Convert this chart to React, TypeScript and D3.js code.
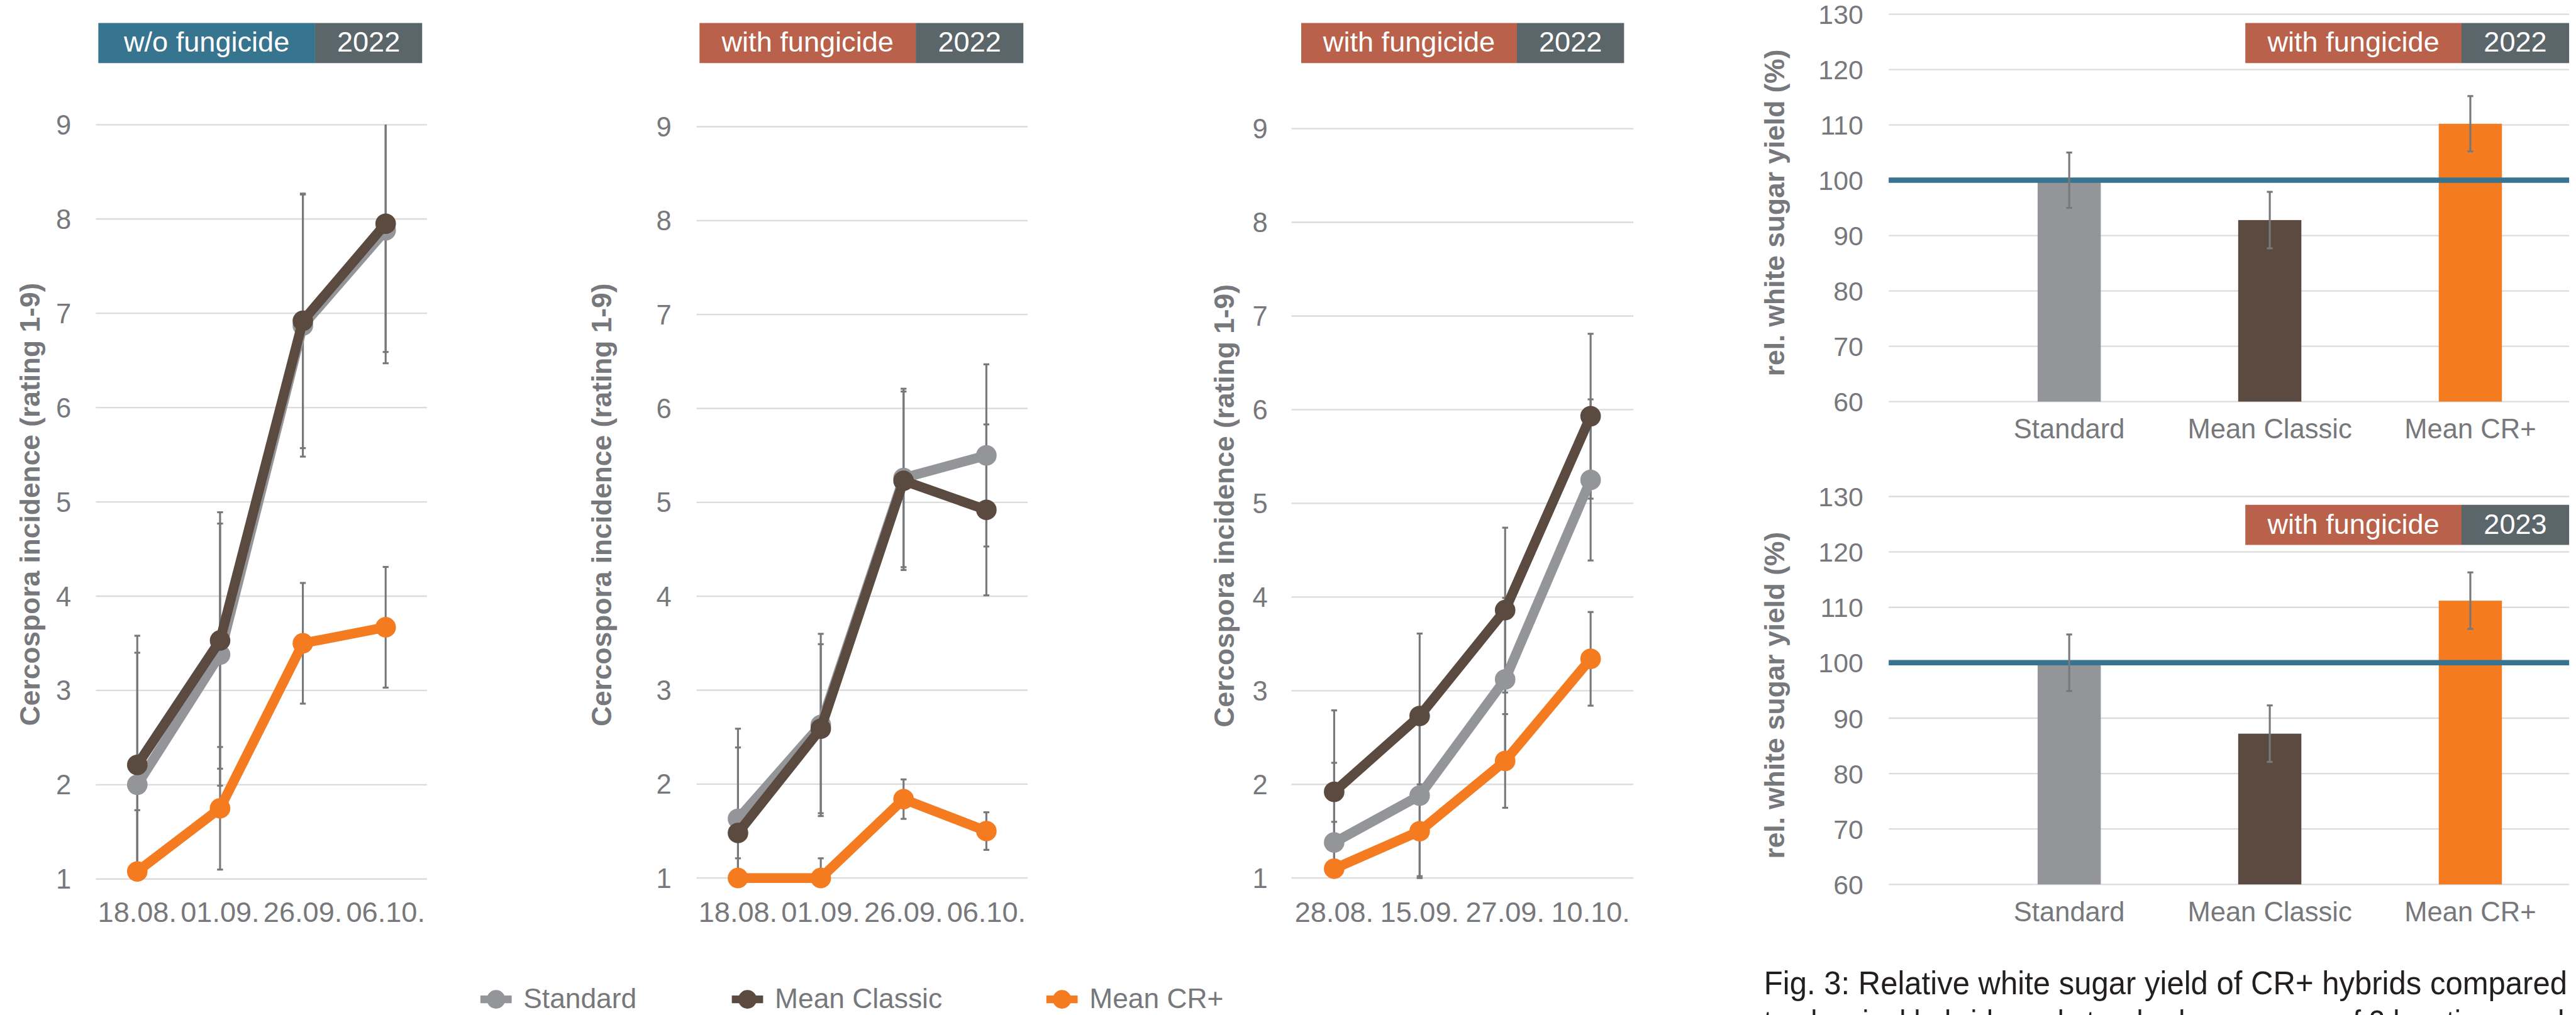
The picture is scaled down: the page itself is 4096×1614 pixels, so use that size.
import React from "react";
import * as d3 from "d3";

const W = 5266;
const H = 2075;

// ---------- data ----------
const seriesNames = ["Standard", "Mean Classic", "Mean CR+"];
const seriesColors = ["#949599", "#5B4A3F", "#F47B20"];

const datesA = ["18.08.", "01.09.", "26.09.", "06.10."];
const datesB = ["28.08.", "15.09.", "27.09.", "10.10."];
const ratingTicks = [1, 2, 3, 4, 5, 6, 7, 8, 9];

// chart 1: w/o fungicide 2022
const c1Standard = [2.0, 3.38, 6.87, 7.88];
const c1Classic = [2.21, 3.53, 6.92, 7.95];
const c1CrPlus = [1.08, 1.75, 3.5, 3.67];
const c1StandardErr = [1.4, 1.39, 1.39, 1.41];
const c1ClassicErr = [1.37, 1.36, 1.35, 1.36];
const c1CrPlusErr = [0.65, 0.65, 0.64, 0.64];

// chart 2: with fungicide 2022
const c2Standard = [1.63, 2.63, 5.26, 5.5];
const c2Classic = [1.48, 2.59, 5.23, 4.92];
const c2CrPlus = [1.0, 1.0, 1.84, 1.5];
const c2StandardErr = [0.96, 0.97, 0.95, 0.97];
const c2ClassicErr = [0.91, 0.9, 0.95, 0.91];
const c2CrPlusErr = [0.21, 0.21, 0.21, 0.2];

// chart 3: with fungicide 2022 (other site)
const c3Standard = [1.38, 1.88, 3.12, 5.25];
const c3Classic = [1.92, 2.73, 3.86, 5.93];
const c3CrPlus = [1.1, 1.5, 2.25, 3.34];
const c3StandardErr = [0.85, 0.86, 0.87, 0.86];
const c3ClassicErr = [0.87, 0.88, 0.88, 0.88];
const c3CrPlusErr = [0.5, 0.5, 0.5, 0.5];

// relative white sugar yield
const barCats = ["Standard", "Mean Classic", "Mean CR+"];
const yieldTicks = [60, 70, 80, 90, 100, 110, 120, 130];
const yield2022 = [100, 92.8, 110.2];
const yield2022Err = [5.0, 5.1, 5.0];
const yield2023 = [100, 87.2, 111.2];
const yield2023Err = [5.1, 5.1, 5.1];

// ---------- style ----------
const FONT = "'Liberation Sans', Arial, Helvetica, sans-serif";
const TXT = "#77787B";
const GRID = "#DCDCDD";
const ERR = "#77787B";
const BLUE = "#37748F";
const RED = "#B9614A";
const DARK = "#5B666B";

function LabelBox({ x0, split, x1, y0, y1, color, label, year }) {
  const base = y0 + 59;
  return (
    <g>
      <rect x={x0} y={y0} width={split - x0} height={y1 - y0} fill={color} />
      <rect x={split} y={y0} width={x1 - split} height={y1 - y0} fill={DARK} />
      <text x={(x0 + split) / 2} y={base} fill="#fff" fontSize={58} textAnchor="middle">{label}</text>
      <text x={(split + x1) / 2} y={base} fill="#fff" fontSize={58} textAnchor="middle">{year}</text>
    </g>
  );
}

function LineChart({ x0, x1, y9, y1, dates, values, errs, tickX, titleX, box }) {
  const y = d3.scaleLinear().domain([1, 9]).range([y1, y9]);
  const x = d3.scalePoint().domain(dates).range([x0, x1]).padding(0.5);
  const line = d3
    .line<number>()
    .x((_, i) => x(dates[i]) as number)
    .y((d) => y(d));
  const titleY = (y(9) + y(1)) / 2 + 5;
  return (
    <g>
      {ratingTicks.map((t) => (
        <g key={t}>
          <line x1={x0} x2={x1} y1={y(t)} y2={y(t)} stroke={GRID} strokeWidth={3} />
          <text x={tickX} y={y(t) + 20} fill={TXT} fontSize={56} textAnchor="middle">{t}</text>
        </g>
      ))}
      {dates.map((d) => (
        <text key={d} x={x(d)} y={1885} fill={TXT} fontSize={58} textAnchor="middle">{d}</text>
      ))}
      <text
        transform={`translate(${titleX},${titleY}) rotate(-90)`}
        fill={TXT}
        fontSize={57}
        fontWeight="bold"
        textAnchor="middle"
      >
        Cercospora incidence (rating 1-9)
      </text>
      {values.map((vals, s) =>
        vals.map((v, i) => {
          const e = errs[s][i];
          const hiV = v + e;
          const loV = v - e;
          const hi = y(Math.min(hiV, 9));
          const lo = y(Math.max(loV, 1));
          const cx = x(dates[i]) as number;
          return (
            <g key={`e${s}-${i}`} stroke={ERR} strokeWidth={4}>
              <line x1={cx} x2={cx} y1={hi} y2={lo} />
              {hiV <= 9 && <line x1={cx - 6} x2={cx + 6} y1={hi} y2={hi} />}
              {loV >= 1 && <line x1={cx - 6} x2={cx + 6} y1={lo} y2={lo} />}
            </g>
          );
        })
      )}
      {values.map((vals, s) => (
        <g key={`s${s}`}>
          <path d={line(vals) as string} fill="none" stroke={seriesColors[s]} strokeWidth={20} strokeLinejoin="round" />
          {vals.map((v, i) => (
            <circle key={i} cx={x(dates[i]) as number} cy={y(v)} r={21} fill={seriesColors[s]} />
          ))}
        </g>
      ))}
      <LabelBox {...box} />
    </g>
  );
}

function BarChart({ yTop, yBot, values, errs, year, boxY0, boxY1, catBase }) {
  const y = d3.scaleLinear().domain([60, 130]).range([yBot, yTop]);
  const x = d3.scaleBand().domain(barCats).range([4025, 5255]).paddingInner(0.685).paddingOuter(0.3425);
  const gx0 = 3861;
  const gx1 = 5252;
  return (
    <g>
      {yieldTicks.map((t) => (
        <g key={t}>
          <line x1={gx0} x2={gx1} y1={y(t)} y2={y(t)} stroke={GRID} strokeWidth={3} />
          <text x={3809} y={y(t) + 20} fill={TXT} fontSize={55} textAnchor="end">{t}</text>
        </g>
      ))}
      <text
        transform={`translate(3647,${(y(130) + y(60)) / 2 + 10}) rotate(-90)`}
        fill={TXT}
        fontSize={57}
        fontWeight="bold"
        textAnchor="middle"
      >
        rel. white sugar yield (%)
      </text>
      {values.map((v, i) => (
        <rect
          key={barCats[i]}
          x={x(barCats[i]) as number}
          width={x.bandwidth()}
          y={y(v)}
          height={y(60) - y(v)}
          fill={seriesColors[i]}
        />
      ))}
      <line x1={gx0} x2={gx1} y1={y(100)} y2={y(100)} stroke={BLUE} strokeWidth={11} />
      {values.map((v, i) => {
        const cx = (x(barCats[i]) as number) + x.bandwidth() / 2;
        const hi = y(v + errs[i]);
        const lo = y(v - errs[i]);
        return (
          <g key={`e${i}`} stroke={ERR} strokeWidth={4}>
            <line x1={cx} x2={cx} y1={hi} y2={lo} />
            <line x1={cx - 6} x2={cx + 6} y1={hi} y2={hi} />
            <line x1={cx - 6} x2={cx + 6} y1={lo} y2={lo} />
          </g>
        );
      })}
      {barCats.map((c) => (
        <text key={c} x={(x(c) as number) + x.bandwidth() / 2} y={catBase} fill={TXT} fontSize={56} textAnchor="middle">
          {c}
        </text>
      ))}
      <LabelBox x0={4590} split={5032} x1={5252} y0={boxY0} y1={boxY1} color={RED} label="with fungicide" year={year} />
    </g>
  );
}

export default function App() {
  const legendX = [1014, 1528, 2171];
  return (
    <svg
      width={4096}
      height={1614}
      viewBox={`0 0 ${W} ${H}`}
      style={{ position: "absolute", left: 0, top: 0, display: "block" }}
      fontFamily={FONT}
    >
      <rect width={W} height={H} fill="#fff" />
      <LineChart
        x0={196}
        x1={873}
        y9={255}
        y1={1797}
        dates={datesA}
        values={[c1Standard, c1Classic, c1CrPlus]}
        errs={[c1StandardErr, c1ClassicErr, c1CrPlusErr]}
        tickX={130}
        titleX={81}
        box={{ x0: 201, split: 644, x1: 863, y0: 47, y1: 129, color: BLUE, label: "w/o fungicide", year: "2022" }}
      />
      <LineChart
        x0={1424}
        x1={2101}
        y9={259}
        y1={1795}
        dates={datesA}
        values={[c2Standard, c2Classic, c2CrPlus]}
        errs={[c2StandardErr, c2ClassicErr, c2CrPlusErr]}
        tickX={1357}
        titleX={1250}
        box={{ x0: 1430, split: 1872, x1: 2092, y0: 47, y1: 129, color: RED, label: "with fungicide", year: "2022" }}
      />
      <LineChart
        x0={2640}
        x1={3339}
        y9={263}
        y1={1795}
        dates={datesB}
        values={[c3Standard, c3Classic, c3CrPlus]}
        errs={[c3StandardErr, c3ClassicErr, c3CrPlusErr]}
        tickX={2576}
        titleX={2522}
        box={{ x0: 2660, split: 3101, x1: 3320, y0: 47, y1: 129, color: RED, label: "with fungicide", year: "2022" }}
      />
      <BarChart yTop={29} yBot={821} values={yield2022} errs={yield2022Err} year="2022" boxY0={47} boxY1={129} catBase={896} />
      <BarChart yTop={1015} yBot={1808} values={yield2023} errs={yield2023Err} year="2023" boxY0={1032} boxY1={1114} catBase={1884} />
      {seriesNames.map((n, i) => (
        <g key={n}>
          <line x1={legendX[i] - 32} x2={legendX[i] + 32} y1={2043} y2={2043} stroke={seriesColors[i]} strokeWidth={16} />
          <circle cx={legendX[i]} cy={2043} r={19} fill={seriesColors[i]} />
          <text x={legendX[i] + 56} y={2061} fill={TXT} fontSize={57}>{n}</text>
        </g>
      ))}
      <text x={3606} y={2033} fill="#231F20" fontSize={67} textLength={1642} lengthAdjust="spacingAndGlyphs">
        Fig. 3: Relative white sugar yield of CR+ hybrids compared
      </text>
      <text x={3606} y={2112} fill="#231F20" fontSize={67} textLength={1636} lengthAdjust="spacingAndGlyphs">
        to classical hybrids and standard as a mean of 3 locations and
      </text>
    </svg>
  );
}
